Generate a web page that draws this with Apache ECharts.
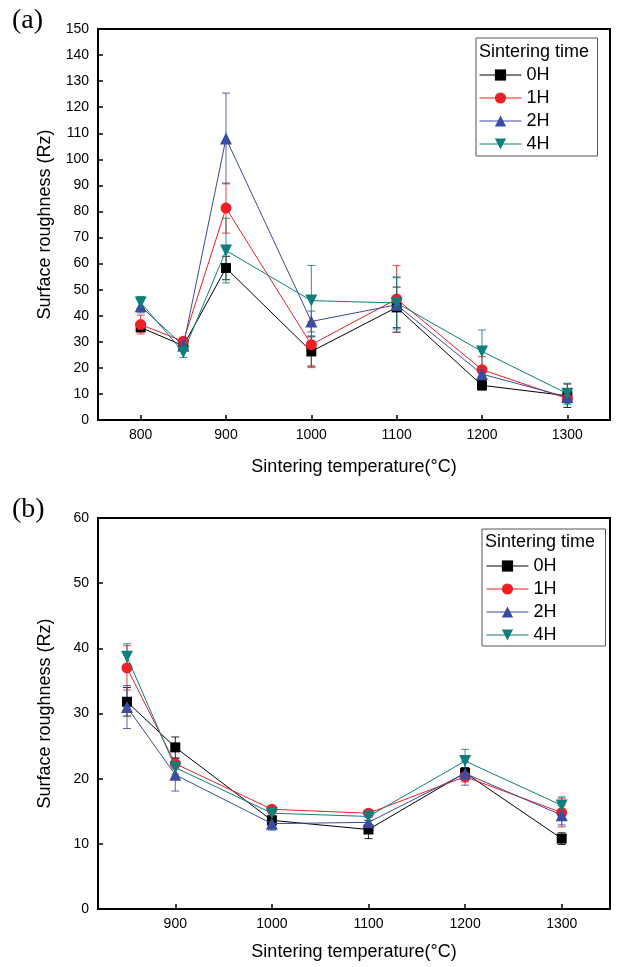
<!DOCTYPE html>
<html><head><meta charset="utf-8">
<script src="https://cdn.jsdelivr.net/npm/echarts@6/dist/echarts.min.js"></script>
<style>html,body{margin:0;padding:0;background:#fff}#c{width:623px;height:967px}</style>
</head><body><div id="c"></div>
<script>
// ---------- data ----------
const seriesNames = ['0H', '1H', '2H', '4H'];

// panel (a)
const tempsA = [800, 850, 900, 1000, 1100, 1200, 1300];
const a0H = [35.5, 28.5, 58.3, 26.3, 43.2, 13.3, 9.3];
const a1H = [36.6, 30.2, 81.3, 28.9, 46.4, 19.3, 8.2];
const a2H = [43.6, 28.5, 108.0, 37.8, 44.2, 17.6, 8.8];
const a4H = [45.1, 26.0, 65.0, 45.8, 44.9, 26.3, 10.1];
const a0HErr = [1.2, 1.5, 4.5, 5.6, 7.8, 1.8, 4.5];
const a1HErr = [3.6, 1.5, 9.6, 8.8, 12.8, 5.0, 1.5];
const a2HErr = [2.5, 1.5, 17.4, 4.0, 10.4, 2.5, 2.0];
const a4HErr = [2.3, 2.0, 12.4, 13.5, 10.0, 8.2, 4.0];
const tickTempsA = [800, 900, 1000, 1100, 1200, 1300];

// panel (b)
const tempsB = [850, 900, 1000, 1100, 1200, 1300];
const b0H = [31.8, 24.8, 13.6, 12.2, 20.9, 10.8];
const b1H = [37.0, 22.3, 15.3, 14.7, 20.3, 14.8];
const b2H = [31.0, 20.6, 13.1, 13.3, 20.8, 14.4];
const b4H = [38.7, 21.7, 14.7, 14.2, 22.7, 15.9];
const b0HErr = [2.2, 1.6, 0.8, 1.4, 0.8, 0.9];
const b1HErr = [3.4, 0.8, 0.5, 0.5, 0.8, 2.2];
const b2HErr = [3.3, 2.5, 1.0, 0.8, 1.8, 1.5];
const b4HErr = [2.0, 1.0, 0.6, 0.6, 1.8, 1.3];
const tickTempsB = [900, 1000, 1100, 1200, 1300];

// ---------- style ----------
const FONT = 'Liberation Sans, Arial, sans-serif';
const colors = ['#000000', '#ee1f25', '#3b4ba0', '#0e7f7b'];
const symbols = ['rect', 'circle', 'triangle', 'triangle'];
const symRot = [0, 0, 0, 180];
const symSize = [10, 11, 12, 12];

const valsA = [a0H, a1H, a2H, a4H];
const errsA = [a0HErr, a1HErr, a2HErr, a4HErr];
const valsB = [b0H, b1H, b2H, b4H];
const errsB = [b0HErr, b1HErr, b2HErr, b4HErr];

function errRenderer(color) {
  return function (params, api) {
    const x = api.value(0), y = api.value(1), e = api.value(2);
    const t = api.coord([x, y + e]), b = api.coord([x, y - e]);
    const c = 4;
    const st = { stroke: color, lineWidth: 1, opacity: 0.85 };
    return { type: 'group', children: [
      { type: 'line', shape: { x1: t[0], y1: t[1], x2: b[0], y2: b[1] }, style: st },
      { type: 'line', shape: { x1: t[0] - c, y1: t[1], x2: t[0] + c, y2: t[1] }, style: st },
      { type: 'line', shape: { x1: b[0] - c, y1: b[1], x2: b[0] + c, y2: b[1] }, style: st }
    ]};
  };
}

const lineSeries = [];
const errSeries = [];
function addPanel(idx, temps, vals, errs) {
  vals.forEach((v, i) => {
    errSeries.push({
      type: 'custom', name: seriesNames[i] + ' err', xAxisIndex: idx, yAxisIndex: idx,
      renderItem: errRenderer(colors[i]), z: 2,
      encode: { x: 0, y: 1 },
      data: temps.map((t, k) => [t, v[k], errs[i][k]])
    });
    lineSeries.push({
      type: 'line', name: seriesNames[i], xAxisIndex: idx, yAxisIndex: idx,
      symbol: symbols[i], symbolRotate: symRot[i], symbolSize: symSize[i],
      itemStyle: { color: colors[i] }, lineStyle: { color: colors[i], width: 1 },
      z: 3 + i, showSymbol: true,
      data: temps.map((t, k) => [t, v[k]])
    });
  });
}
addPanel(0, tempsA, valsA, errsA);
addPanel(1, tempsB, valsB, errsB);

function xAxis(idx, min, ticks, nameGap) {
  return {
    type: 'value', gridIndex: idx, min: min, max: 1350,
    name: 'Sintering temperature(°C)', nameLocation: 'middle', nameGap: nameGap,
    nameTextStyle: { fontFamily: FONT, fontSize: 18, color: '#000' },
    axisLine: { show: true, lineStyle: { color: '#000', width: 2 } },
    axisTick: { show: true, inside: true, length: 5, customValues: ticks, lineStyle: { color: '#000', width: 1.5 } },
    axisLabel: { show: true, customValues: ticks, formatter: v => String(v), fontFamily: FONT, fontSize: 14, color: '#000', margin: 8 },
    splitLine: { show: false }
  };
}
function yAxis(idx, max) {
  return {
    type: 'value', gridIndex: idx, min: 0, max: max, interval: 10,
    name: 'Surface roughness (Rz)', nameLocation: 'middle', nameGap: 44,
    nameTextStyle: { fontFamily: FONT, fontSize: 18, color: '#000' },
    axisLine: { show: true, lineStyle: { color: '#000', width: 2 } },
    axisTick: { show: true, inside: true, length: 5, lineStyle: { color: '#000', width: 1.5 } },
    axisLabel: { fontFamily: FONT, fontSize: 14, color: '#000', margin: 9 },
    splitLine: { show: false }
  };
}
function legend(left, top, pad) {
  return {
    data: seriesNames, orient: 'vertical', left: left, top: top, padding: pad,
    itemGap: 5, itemWidth: 42, itemHeight: 14, selectedMode: false,
    borderColor: '#555', borderWidth: 1,
    lineStyle: { width: 1 },
    textStyle: { fontFamily: FONT, fontSize: 18, color: '#000' }
  };
}

const chart = echarts.init(document.getElementById('c'), null, { renderer: 'canvas' });
chart.setOption({
  animation: false,
  backgroundColor: '#fff',
  title: [
    { text: '(a)', left: 12, top: 7, padding: 0, textStyle: { fontFamily: 'Liberation Serif, Times New Roman, serif', fontSize: 28, fontWeight: 'normal', color: '#000' } },
    { text: '(b)', left: 12, top: 496, padding: 0, textStyle: { fontFamily: 'Liberation Serif, Times New Roman, serif', fontSize: 28, fontWeight: 'normal', color: '#000' } },
    { text: 'Sintering time', left: 479, top: 43, padding: 0, textStyle: { fontFamily: FONT, fontSize: 18, fontWeight: 'normal', color: '#000' } },
    { text: 'Sintering time', left: 485, top: 533, padding: 0, textStyle: { fontFamily: FONT, fontSize: 18, fontWeight: 'normal', color: '#000' } }
  ],
  legend: [legend(476, 38, [28, 48, 3, 3]), legend(482, 529, [28, 49, 2, 4])],
  grid: [
    { left: 98, top: 29, width: 512, height: 391, show: true, borderColor: '#000', borderWidth: 2, backgroundColor: 'transparent' },
    { left: 98, top: 518, width: 512, height: 391, show: true, borderColor: '#000', borderWidth: 2, backgroundColor: 'transparent' }
  ],
  xAxis: [xAxis(0, 750, tickTempsA, 38), xAxis(1, 820, tickTempsB, 34)],
  yAxis: [yAxis(0, 150), yAxis(1, 60)],
  series: lineSeries.concat(errSeries)
});
</script></body></html>
